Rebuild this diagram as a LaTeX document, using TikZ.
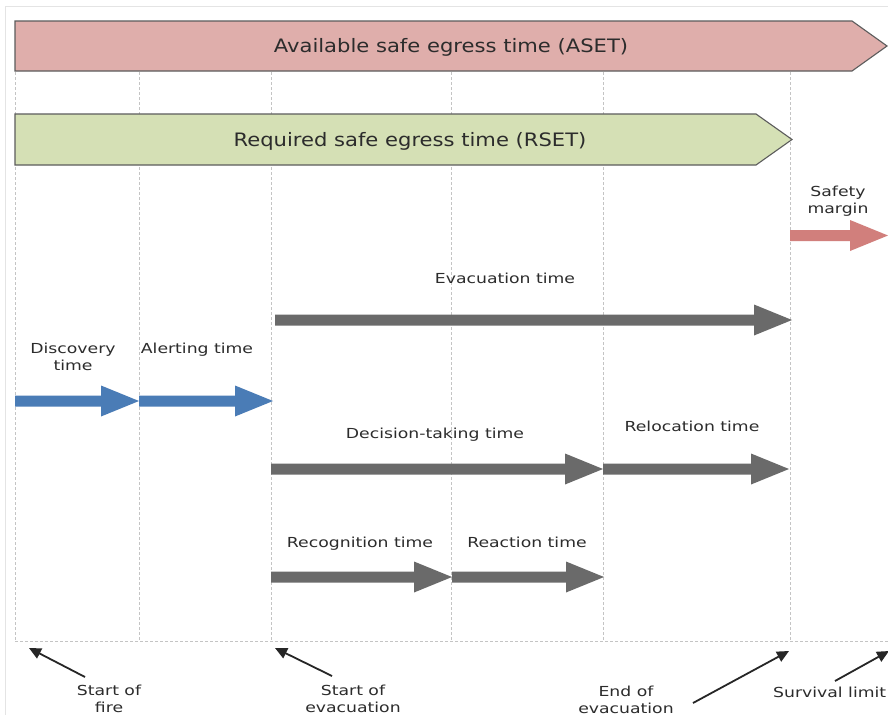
\documentclass[tikz,border=0pt]{standalone}
\usepackage{fontspec}
\usetikzlibrary{arrows.meta}
\newfontfamily\lblfont{DejaVu Sans}[FakeStretch=1.25]
\newfontfamily\banfont{DejaVu Sans}[FakeStretch=1.14]
\definecolor{asetfill}{HTML}{DFAEAB}
\definecolor{rsetfill}{HTML}{D5E0B5}
\definecolor{bannerline}{HTML}{5C5C5C}
\definecolor{bluearr}{HTML}{4A7CB6}
\definecolor{grayarr}{HTML}{6A6A6A}
\definecolor{pinkarr}{HTML}{D17F7C}
\definecolor{txt}{HTML}{2C2C2C}
\definecolor{gridc}{HTML}{C4C4C4}
\definecolor{framec}{HTML}{E4E4E4}
\def\ashaft{5.5}
\def\ahead{15.5}
\def\ahl{38}
\newcommand{\blkarrow}[4]{%
  \fill[#1] ({#2},{#4-\ashaft}) -- ({#3-\ahl},{#4-\ashaft}) -- ({#3-\ahl},{#4-\ahead})
    -- ({#3},{#4}) -- ({#3-\ahl},{#4+\ahead}) -- ({#3-\ahl},{#4+\ashaft})
    -- ({#2},{#4+\ashaft}) -- cycle;}
\begin{document}
\begin{tikzpicture}[x=1pt,y=-1pt,
  lbl/.style={font=\lblfont\fontsize{13.8}{16.5}\selectfont, text=txt, inner sep=0pt, align=center},
  ban/.style={font=\banfont\fontsize{18.5}{22}\selectfont, text=txt, inner sep=0pt},
  grid/.style={gridc, line width=0.8pt, dash pattern=on 3pt off 2pt},
  banner/.style={draw=bannerline, line width=1.1pt, line join=miter},
  pointer/.style={black!85, line width=1.8pt, -{Triangle[length=12pt,width=11pt]}, shorten >=0pt}]
\useasboundingbox (0,0) rectangle (888,715);
\fill[white] (0,0) rectangle (888,715);
% faint frame
\draw[framec, line width=1pt] (5,715) -- (5,6) -- (888,6);
% grid
\foreach \gx in {15,139,271,451,603,790}
  \draw[grid] (\gx,22) -- (\gx,641);
\draw[grid] (15,641) -- (888,641);
% banners
\draw[banner, fill=asetfill] (15,21) -- (852,21) -- (887,46) -- (852,71) -- (15,71) -- cycle;
\node[ban, anchor=base] (aset) at (451,52.7) {Available safe egress time (ASET)};
\draw[banner, fill=rsetfill] (15,114) -- (756,114) -- (792,139.5) -- (756,165) -- (15,165) -- cycle;
\node[ban, anchor=base] (rset) at (410,146.7) {Required safe egress time (RSET)};
% block arrows
\blkarrow{pinkarr}{790}{888}{235.5}
\blkarrow{grayarr}{275}{792}{320}
\blkarrow{bluearr}{15}{139}{401}
\blkarrow{bluearr}{139}{273}{401}
\blkarrow{grayarr}{271}{603}{469}
\blkarrow{grayarr}{603}{789}{469}
\blkarrow{grayarr}{271}{452}{577}
\blkarrow{grayarr}{452}{604}{577}
% labels
\node[lbl] (safety) at (838,201) {Safety\\margin};
\node[lbl, anchor=base] (evac) at (505,283) {Evacuation time};
\node[lbl] (disc) at (73,357) {Discovery\\time};
\node[lbl, anchor=base] (alert) at (197,353) {Alerting time};
\node[lbl, anchor=base] (decis) at (435,438) {Decision-taking time};
\node[lbl, anchor=base] (reloc) at (692,431) {Relocation time};
\node[lbl, anchor=base] (recog) at (360,547) {Recognition time};
\node[lbl, anchor=base] (react) at (527,547) {Reaction time};
% bottom labels
\node[lbl] (sfire) at (109,699) {Start of\\fire};
\node[lbl] (sevac) at (353,699) {Start of\\evacuation};
\node[lbl] (eevac) at (626,700) {End of\\evacuation};
\node[lbl, anchor=base west] (surv) at (773,697) {Survival limit};
% pointers
\coordinate (p1a) at (85,677);  \coordinate (p1b) at (29,648);
\coordinate (p2a) at (332,676); \coordinate (p2b) at (275,648);
\coordinate (p3a) at (693,703); \coordinate (p3b) at (789,651);
\coordinate (p4a) at (835,681); \coordinate (p4b) at (889,651);
\draw[pointer] (p1a) -- (p1b);
\draw[pointer] (p2a) -- (p2b);
\draw[pointer] (p3a) -- (p3b);
\draw[pointer] (p4a) -- (p4b);
\end{tikzpicture}
\end{document}
